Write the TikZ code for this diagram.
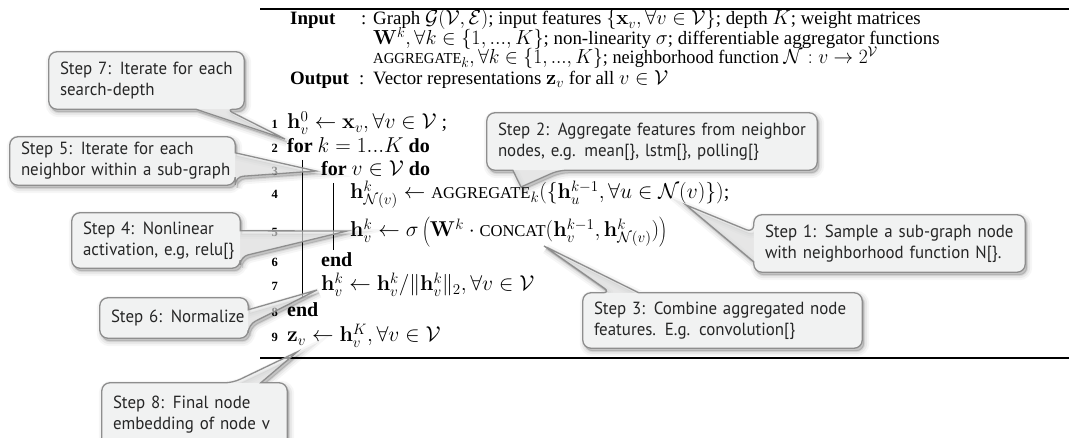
\RequirePackage{fix-cm}
\documentclass[tikz,border=0pt]{standalone}
\usepackage[no-math]{fontspec}
\setmainfont{Liberation Serif}[Scale=0.93]
\newfontfamily\notefont{PT Sans}[FakeStretch=0.96]
\usetikzlibrary{calc}
\pgfdeclarelayer{paper}
\pgfdeclarelayer{background}
\pgfdeclarelayer{notes}
\pgfdeclarelayer{front}
\pgfsetlayers{paper,background,main,notes,front}

\definecolor{notefill}{HTML}{F1F2F2}
\definecolor{noteedge}{HTML}{8E8E8E}
\definecolor{notetext}{HTML}{262626}

% small capitals imitated with reduced upper case
\newcommand\fakesc[1]{{\fontsize{17.8}{17.8}\selectfont #1}}
\newcommand\hdrsc[1]{{\fontsize{16.4}{16.4}\selectfont #1}}
% one unbreakable callout line
\newcommand\nline[1]{\mbox{#1}}

\tikzset{
  alg/.style={anchor=base west, inner sep=0pt, font=\fontsize{21.5}{24}\selectfont},
  hdr/.style={anchor=base west, inner sep=0pt, font=\fontsize{20.3}{22}\selectfont},
  num/.style={anchor=base east, inner sep=0pt, font=\fontsize{13.5}{13.5}\selectfont\bfseries},
  note/.style={font=\notefont\fontsize{17.6}{21}\selectfont, text=notetext,
    align=left, inner xsep=11pt, inner ysep=0pt},
  algrule/.style={line width=1.8pt},
  loopline/.style={line width=0.7pt},
}

% callout body: #1 box node, #2 first base point, #3 box corners,
% #4 second base point, #5 tip
\newcommand\notecallout[5]{%
  \begin{pgfonlayer}{background}
    \foreach \w/\o in {10/0.035,6/0.05,2/0.08}{
      \path[fill=black, draw=black, opacity=\o, line width=\w pt,
            transform canvas={shift={(2,3)}}]
        (#2) [rounded corners=8pt] #3 -- (#4) [sharp corners] -- (#5) -- cycle;
    }
  \end{pgfonlayer}
  \begin{pgfonlayer}{notes}
    \path[fill=notefill, fill opacity=0.6]
      (#2) [rounded corners=8pt] #3 -- (#4) [sharp corners] -- (#5) -- cycle;
    \path[fill=notefill, rounded corners=8pt] (#1.south west) rectangle (#1.north east);
    \path[draw=noteedge, line width=1.3pt]
      (#2) [rounded corners=8pt] #3 -- (#4) [sharp corners] -- (#5) -- cycle;
  \end{pgfonlayer}}

\begin{document}
\begin{tikzpicture}[x=1pt,y=-1pt]
\useasboundingbox (0,0) rectangle (1069,438);
\begin{pgfonlayer}{paper}
  \fill[white] (0,0) rectangle (1069,438);
\end{pgfonlayer}

% rules of the algorithm float
\draw[algrule] (260,9) -- (1069,9);
\draw[algrule] (260,358) -- (1069,358);

% input / output block
\node[hdr] (inkey) at (290,25) {\textbf{Input}};
\node[hdr] (incolon) at (361,25) {:};
\node[hdr] (in1) at (373,25) {Graph $\mathcal{G}(\mathcal{V},\mathcal{E})$; input features $\{\mathbf{x}_v,\forall v\in\mathcal{V}\}$; depth $K$; weight matrices};
\node[hdr] (in2) at (373,44.5) {$\mathbf{W}^k,\forall k\in\{1,...,K\}$; non-linearity $\sigma$; differentiable aggregator functions};
\node[hdr, xscale=0.965, transform shape] (in3) at (373,64) {\hdrsc{AGGREGATE}$_k,\forall k\in\{1,...,K\}$; neighborhood function $\mathcal{N}:v\rightarrow 2^{\mathcal{V}}$};
\node[hdr] (outkey) at (290,84.5) {\textbf{Output}};
\node[hdr] (outcolon) at (359,84.5) {:};
\node[hdr] (out1) at (373,84.5) {Vector representations $\mathbf{z}_v$ for all $v\in\mathcal{V}$};

% numbered lines
\node[num] (n1) at (278,129) {1};
\node[alg] (l1) at (287,129) {$\mathbf{h}^0_v\leftarrow\mathbf{x}_v,\forall v\in\mathcal{V}$ ;};
\node[num] (n2) at (278,153) {2};
\node[alg] (l2) at (287,153) {\textbf{for} $k=1...K$ \textbf{do}};
\node[num] (n3) at (278,176) {3};
\node[alg] (l3) at (321,176) {\textbf{for} $v\in\mathcal{V}$ \textbf{do}};
\node[num] (n4) at (278,199) {4};
\node[alg] (l4) at (350,199) {$\mathbf{h}^k_{\mathcal{N}(v)}\leftarrow\mbox{\fakesc{AGGREGATE}}_k(\{\mathbf{h}^{k-1}_u,\forall u\in\mathcal{N}(v)\})$;};
\node[num] (n5) at (278,237) {5};
\node[alg] (l5) at (350,237) {$\mathbf{h}^k_v\leftarrow\sigma\left(\mathbf{W}^k\cdot\mbox{\fakesc{CONCAT}}(\mathbf{h}^{k-1}_v,\mathbf{h}^k_{\mathcal{N}(v)})\right)$};
\node[num] (n6) at (278,267) {6};
\node[alg] (l6) at (321,267) {\textbf{end}};
\node[num] (n7) at (278,291) {7};
\node[alg] (l7) at (321,291) {$\mathbf{h}^k_v\leftarrow\mathbf{h}^k_v/\|\mathbf{h}^k_v\|_2,\forall v\in\mathcal{V}$};
\node[num] (n8) at (278,317) {8};
\node[alg] (l8) at (287,317) {\textbf{end}};
\node[num] (n9) at (278,342) {9};
\node[alg] (l9) at (287,342) {$\mathbf{z}_v\leftarrow\mathbf{h}^K_v,\forall v\in\mathcal{V}$};

% block lines of the two loops
\draw[loopline] (302,160) -- (302,297);
\draw[loopline] (333,183) -- (333,250);

% callout texts
\begin{pgfonlayer}{front}
\node[note, minimum width=195pt, minimum height=57pt, text width=173pt] (s7) at (146.5,80.5)
  {\nline{Step 7: Iterate for each}\\\nline{search-depth}};
\node[note, minimum width=225pt, minimum height=48pt, text width=203pt] (s5) at (122.5,161)
  {\nline{Step 5: Iterate for each}\\\nline{neighbor within a sub-graph}};
\node[note, minimum width=168pt, minimum height=55pt, text width=146pt] (s4) at (156,240.5)
  {\nline{Step 4: Nonlinear}\\\nline{activation, e.g, relu[\}}};
\node[note, minimum width=148pt, minimum height=40pt, text width=126pt] (s6) at (174,318)
  {\nline{Step 6: Normalize}};
\node[note, minimum width=185pt, minimum height=63pt, text width=163pt] (s8) at (194.5,414.5)
  {\nline{Step 8: Final node}\\\nline{embedding of node v}};
\node[note, minimum width=330pt, minimum height=57pt, text width=308pt] (s2) at (652,141.5)
  {\nline{Step 2: Aggregate features from neighbor}\\\nline{nodes, e.g. mean[\}, lstm[\}, polling[\}}};
\node[note, minimum width=271pt, minimum height=57pt, text width=249pt] (s1) at (889.5,243.5)
  {\nline{Step 1: Sample a sub-graph node}\\\nline{with neighborhood function N[\}.}};
\node[note, minimum width=279pt, minimum height=55pt, text width=257pt] (s3) at (722.5,320.5)
  {\nline{Step 3: Combine aggregated node}\\\nline{features. E.g. convolution[\}}};
\end{pgfonlayer}

% pointer tips
\coordinate (t7) at (285,139);
\coordinate (t5) at (316,171);
\coordinate (t4) at (347,231);
\coordinate (t6) at (317,290);
\coordinate (t8) at (297,352);
\coordinate (t2) at (521,187);
\coordinate (t1) at (686,205);
\coordinate (t3) at (544,246);

\notecallout{s7}{$(s7.south west)+(147,0)$}
  {-- (s7.south west) -- (s7.north west) -- (s7.north east) -- (s7.south east)}
  {$(s7.south west)+(177,0)$}{t7}
\notecallout{s5}{$(s5.north east)+(0,16)$}
  {-- (s5.north east) -- (s5.north west) -- (s5.south west) -- (s5.south east)}
  {$(s5.north east)+(0,40)$}{t5}
\notecallout{s4}{$(s4.north east)+(0,18)$}
  {-- (s4.north east) -- (s4.north west) -- (s4.south west) -- (s4.south east)}
  {$(s4.north east)+(0,44)$}{t4}
\notecallout{s6}{$(s6.north east)+(0,12)$}
  {-- (s6.north east) -- (s6.north west) -- (s6.south west) -- (s6.south east)}
  {$(s6.north east)+(0,27)$}{t6}
\notecallout{s8}{$(s8.north west)+(159,0)$}
  {-- (s8.north east) -- (s8.south east) -- (s8.south west) -- (s8.north west)}
  {$(s8.north west)+(131,0)$}{t8}
\notecallout{s2}{$(s2.south west)+(26,0)$}
  {-- (s2.south west) -- (s2.north west) -- (s2.north east) -- (s2.south east)}
  {$(s2.south west)+(72,0)$}{t2}
\notecallout{s1}{$(s1.north west)+(0,47)$}
  {-- (s1.south west) -- (s1.south east) -- (s1.north east) -- (s1.north west)}
  {$(s1.north west)+(0,18)$}{t1}
\notecallout{s3}{$(s3.north west)+(56,0)$}
  {-- (s3.north east) -- (s3.south east) -- (s3.south west) -- (s3.north west)}
  {$(s3.north west)+(28,0)$}{t3}
\end{tikzpicture}
\end{document}
